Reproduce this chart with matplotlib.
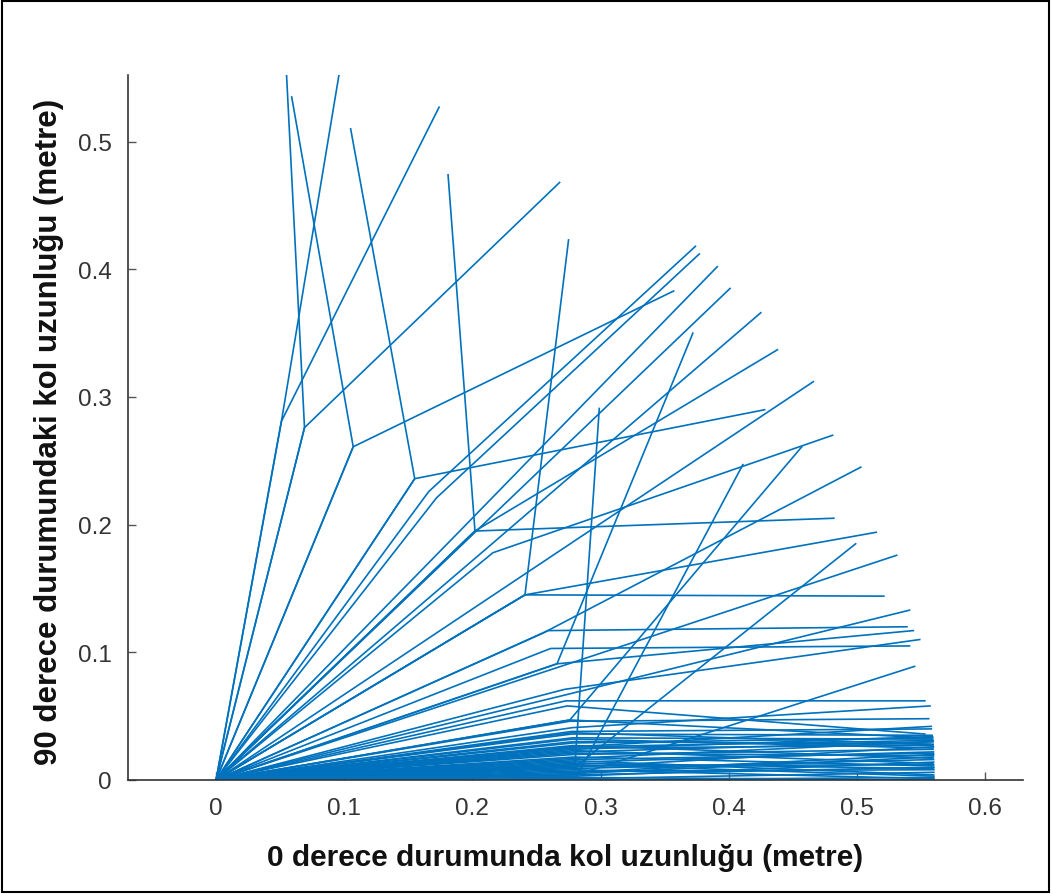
import matplotlib
matplotlib.use('Agg')
import matplotlib.pyplot as plt
from matplotlib.patches import Rectangle

plt.rcParams['font.family'] = ['Liberation Sans', 'DejaVu Sans']

# elbow (joint) and tip points of each two-link arm
elbow_x = [0.051, 0.051, 0.069, 0.069, 0.107, 0.107, 0.155, 0.155, 0.202, 0.202,
           0.202, 0.241, 0.241, 0.241, 0.166, 0.172, 0.196, 0.201, 0.213, 0.216,
           0.233, 0.255, 0.261, 0.266, 0.266, 0.259, 0.272, 0.270, 0.273, 0.278,
           0.279, 0.281, 0.266, 0.280, 0.280, 0.276, 0.280, 0.276, 0.276, 0.274,
           0.2775, 0.2795, 0.2798, 0.2799, 0.2790, 0.2797, 0.2800, 0.2796, 0.2799, 0.2800,
           0.2793, 0.2787, 0.2784, 0.2780, 0.2798, 0.2800, 0.2799, 0.2794, 0.2791,
           0.2800, 0.2798, 0.2796, 0.2792, 0.2789, 0.2785, 0.2782, 0.2797, 0.2799, 0.2795,
           0.2791, 0.2788, 0.2776, 0.2773, 0.2800]
elbow_y = [0.281, 0.281, 0.276, 0.276, 0.261, 0.261, 0.236, 0.236, 0.195, 0.195,
           0.195, 0.145, 0.145, 0.145, 0.226, 0.221, 0.201, 0.193, 0.183, 0.178,
           0.156, 0.115, 0.103, 0.091, 0.091, 0.117, 0.071, 0.066, 0.062, 0.041,
           0.026, 0.004, 0.088, 0.012, 0.000, 0.047, 0.010, 0.046, 0.047, 0.058,
           0.037, 0.017, 0.010, 0.006, 0.024, 0.013, 0.003, 0.015, 0.008, 0.001,
           0.020, 0.027, 0.030, 0.033, 0.011, 0.002, 0.005, 0.018, 0.022,
           0.004, 0.009, 0.014, 0.021, 0.025, 0.029, 0.032, 0.012, 0.007, 0.016,
           0.023, 0.026, 0.036, 0.038, 0.000]
tip_x = [0.096, 0.174, 0.055, 0.268, 0.059, 0.357, 0.105, 0.428, 0.181, 0.482,
         0.438, 0.275, 0.521, 0.515, 0.374, 0.377, 0.391, 0.401, 0.425, 0.481,
         0.466, 0.503, 0.541, 0.372, 0.544, 0.539, 0.549, 0.541, 0.553, 0.557,
         0.558, 0.545, 0.531, 0.299, 0.411, 0.457, 0.499, 0.556, 0.556, 0.553,
         0.5575, 0.5595, 0.5597, 0.5599, 0.5590, 0.5597, 0.5599, 0.5598, 0.5600, 0.5600,
         0.5594, 0.5592, 0.5595, 0.5589, 0.5599, 0.5600, 0.5597, 0.5596, 0.5590,
         0.5600, 0.5598, 0.5597, 0.5595, 0.5593, 0.5591, 0.5592, 0.5599, 0.5600, 0.5596,
         0.5593, 0.5594, 0.5586, 0.5580, 0.5600]
tip_y = [0.553, 0.527, 0.552, 0.468, 0.535, 0.383, 0.510, 0.290, 0.474, 0.205,
         0.337, 0.423, 0.144, 0.194, 0.418, 0.412, 0.402, 0.385, 0.366, 0.270,
         0.312, 0.245, 0.105, 0.350, 0.117, 0.120, 0.110, 0.133, 0.062, 0.058,
         0.042, 0.089, 0.176, 0.291, 0.247, 0.261, 0.185, 0.048, 0.033, 0.036,
         0.028, 0.030, 0.026, 0.020, 0.034, 0.009, 0.014, 0.004, 0.001, 0.006,
         0.024, 0.017, 0.028, 0.032, 0.012, 0.000, 0.018, 0.011, 0.030,
         0.010, 0.016, 0.022, 0.019, 0.027, 0.033, 0.025, 0.003, 0.008, 0.021,
         0.013, 0.031, 0.035, 0.040, 0.002]

xticks = [0, 0.1, 0.2, 0.3, 0.4, 0.5, 0.6]
yticks = [0, 0.1, 0.2, 0.3, 0.4, 0.5]
tick_labels_x = ['0', '0.1', '0.2', '0.3', '0.4', '0.5', '0.6']
tick_labels_y = ['0', '0.1', '0.2', '0.3', '0.4', '0.5']

fig = plt.figure(figsize=(10.51, 8.95), dpi=100)
ax = fig.add_axes([0.1218, 0.1274, 0.8516, 0.7877])

for i in range(len(elbow_x)):
    ax.plot([0, elbow_x[i], tip_x[i]], [0, elbow_y[i], tip_y[i]],
            color='#0072BD', linewidth=1.2, solid_joinstyle='miter')

ax.set_xlim(-0.0687, 0.6296)
ax.set_ylim(0, 0.5522)

for side in ['top', 'right']:
    ax.spines[side].set_visible(False)
for side in ['left', 'bottom']:
    ax.spines[side].set_color('#333333')
    ax.spines[side].set_linewidth(1.2)

ax.set_xticks(xticks)
ax.set_xticklabels(tick_labels_x)
ax.set_yticks(yticks)
ax.set_yticklabels(tick_labels_y)
ax.tick_params(axis='both', direction='in', length=5.5, width=1.0, color='#555555',
               labelsize=17.5, labelcolor='#333333')
ax.tick_params(axis='x', pad=12)
ax.tick_params(axis='y', pad=11.5)

ax.set_xlabel('0 derece durumunda kol uzunluğu (metre)', fontsize=21.5,
              fontweight='bold', color='#111111')
ax.set_ylabel('90 derece durumundaki kol uzunluğu (metre)', fontsize=22.5,
              fontweight='bold', color='#111111')
ax.xaxis.set_label_coords(0.488, -0.09)
ax.yaxis.set_label_coords(-0.072, 0.495)

fig.patches.append(Rectangle((0.002, 0.002), 0.996, 0.996, transform=fig.transFigure,
                             fill=False, edgecolor='black', linewidth=1.5))

fig.savefig('out.png', dpi=100)
